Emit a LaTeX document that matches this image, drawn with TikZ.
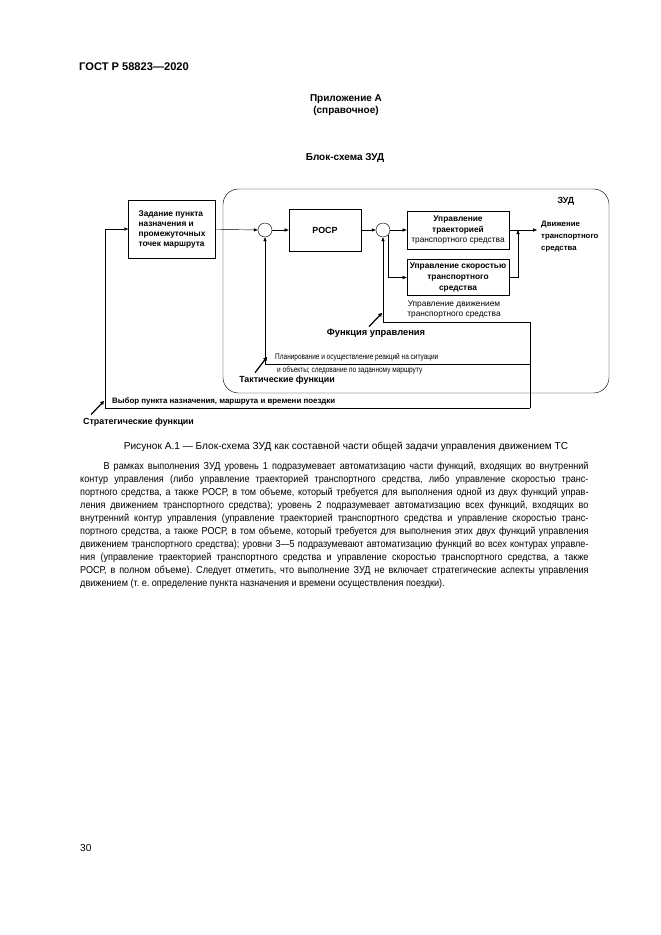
\documentclass[tikz,border=0pt]{standalone}
\usepackage{fontspec}
\setmainfont{Liberation Sans}
\newfontfamily\narrowsans[FakeStretch=0.8]{Liberation Sans}
\newfontfamily\bodysans[FakeStretch=0.9]{Liberation Sans}
\usetikzlibrary{arrows.meta,positioning,calc}
\frenchspacing

\begin{document}
\begin{tikzpicture}[x=0.9pt,y=-0.9pt,
  block/.style={draw,semithick,align=center,inner sep=2pt,
    font=\fontsize{7.5}{9.5}\selectfont\bfseries},
  summer/.style={draw,thin,circle,minimum size=12.6pt,inner sep=0pt},
  signal/.style={thin,-{Triangle[length=3.6pt,width=2.8pt]}},
  pointer/.style={line width=1.1pt,-{Triangle[length=3.2pt,width=3.6pt]}},
  remark/.style={inner sep=0pt,align=center,
    font=\fontsize{7.5}{9.5}\selectfont},
  level/.style={inner sep=0pt,font=\fontsize{8}{10}\selectfont\bfseries},
  heading/.style={inner sep=0pt,align=center,
    font=\fontsize{9}{11.5}\selectfont\bfseries},
  body/.style={inner sep=0pt,font=\fontsize{9.1}{11.7}\selectfont}
]
% Page frame in pixels of the scanned sheet.
\useasboundingbox[fill=white] (0,0) rectangle (661,935);

\node[heading,anchor=west,font=\fontsize{10}{12}\selectfont\bfseries]
  (gost) at (79,67) {ГОСТ Р 58823—2020};
\node[heading] (annex) at (346,105) {Приложение А\\(справочное)};
\node[heading] (title) at (345,158) {Блок-схема ЗУД};

\begin{scope}
  \draw[thin,rounded corners=14pt] (223,189) rectangle (609,393);
  \node[level] (zud) at (566,201) {ЗУД};

  \node[block,align=left,minimum width=78pt,minimum height=52pt,
    font=\fontsize{7.5}{9}\selectfont\bfseries] (target) at (172,229)
    {Задание пункта\\назначения и\\промежуточных\\точек маршрута};
  \node[summer] (sum-1) at (265,230) {};
  \node[block,minimum width=64.8pt,minimum height=37.8pt,
    font=\fontsize{8}{10}\selectfont\bfseries] (rosr) at (325,230) {РОСР};
  \node[summer] (sum-2) at (383,230) {};
  \node[block,minimum width=91.8pt,minimum height=34.2pt] (path) at (458,230)
    {Управление\\траекторией\\{\mdseries транспортного средства}};
  \node[block,minimum width=91.8pt,minimum height=32.4pt] (speed) at (458,277.5)
    {Управление скоростью\\транспортного\\средства};
  \node[remark,anchor=west,align=left,font=\fontsize{7}{10.8}\selectfont\bfseries]
    (motion) at (541,237) {Движение\\транспортного\\средства};

  \coordinate (entry) at (105,229);
  \coordinate (join) at (518,230);
  \coordinate (out) at (537,230);
  \coordinate (tap-in) at (530,322);
  \coordinate (tap-tac) at (530,364);
  \coordinate (tap-str) at (530,408);

  \draw[signal] (target) -- (sum-1);
  \draw[signal] (sum-1) -- (rosr);
  \draw[signal] (rosr) -- (sum-2);
  \draw[signal] (sum-2) -- (path);
  \draw[signal] (sum-2.south east) |- (speed.west);
  \draw[signal] (speed.east) -| (join);
  \draw[signal] (path.east) -- (out);
  \draw[thin] (tap-in) -- (tap-str);
  \draw[signal] (tap-in) -| (sum-2.south);
  \draw[signal] (tap-tac) -| (sum-1.south);
  \draw[signal] (tap-str) -| (entry) -- (target);

  \node[remark] (vehicle) at (454,309.5)
    {Управление движением\\транспортного средства};
  \node[level,font=\fontsize{8.4}{10}\selectfont\bfseries] (ctrl-lab) at (376,333)
    {Функция управления};
  \node[remark,anchor=west,font=\fontsize{7.3}{9}\narrowsans] (plan-a) at (275,357)
    {Планирование и осуществление реакций на ситуации};
  \node[remark,anchor=west,font=\fontsize{7.3}{9}\narrowsans] (plan-b) at (277,370)
    {и объекты; следование по заданному маршруту};
  \node[level] (tact-lab) at (287,380) {Тактические функции};
  \node[level,anchor=west,font=\fontsize{7.1}{9}\selectfont\bfseries]
    (choice) at (112,401) {Выбор пункта назначения, маршрута и времени поездки};
  \node[level,anchor=west] (strat-lab) at (83,422) {Стратегические функции};

  \coordinate (ctrl-tip) at (382,313);
  \coordinate (tact-tip) at (267,357);
  \coordinate (strat-tip) at (104,401);
  \draw[pointer] ($(ctrl-lab.north)+(-7,-2)$) -- (ctrl-tip);
  \draw[pointer] ($(tact-lab.north west)+(16,-3)$) -- (tact-tip);
  \draw[pointer] ($(strat-lab.north west)+(8,-3)$) -- (strat-tip);
\end{scope}

\node[body] (caption) at (346,447)
  {Рисунок А.1 — Блок-схема ЗУД как составной части общей задачи управления движением ТС};
\node[body,anchor=north west,text width=457.5pt,align=justify,
  font=\fontsize{9.1}{11.7}\bodysans] (text) at (80,462)
  {\tolerance=9999\hspace*{21pt}В рамках выполнения ЗУД уровень 1 подразумевает автоматизацию части функций, входящих во внутренний\linebreak
  контур управления (либо управление траекторией транспортного средства, либо управление скоростью транс-\linebreak
  портного средства, а также РОСР, в том объеме, который требуется для выполнения одной из двух функций управ-\linebreak
  ления движением транспортного средства); уровень 2 подразумевает автоматизацию всех функций, входящих во\linebreak
  внутренний контур управления (управление траекторией транспортного средства и управление скоростью транс-\linebreak
  портного средства, а также РОСР, в том объеме, который требуется для выполнения этих двух функций управления\linebreak
  движением транспортного средства); уровни 3—5 подразумевают автоматизацию функций во всех контурах управле-\linebreak
  ния (управление траекторией транспортного средства и управление скоростью транспортного средства, а также\linebreak
  РОСР, в полном объеме). Следует отметить, что выполнение ЗУД не включает стратегические аспекты управления\linebreak
  движением (т.~е. определение пункта назначения и времени осуществления поездки).};
\node[body,anchor=west] (page) at (80,848) {30};
\end{tikzpicture}
\end{document}
